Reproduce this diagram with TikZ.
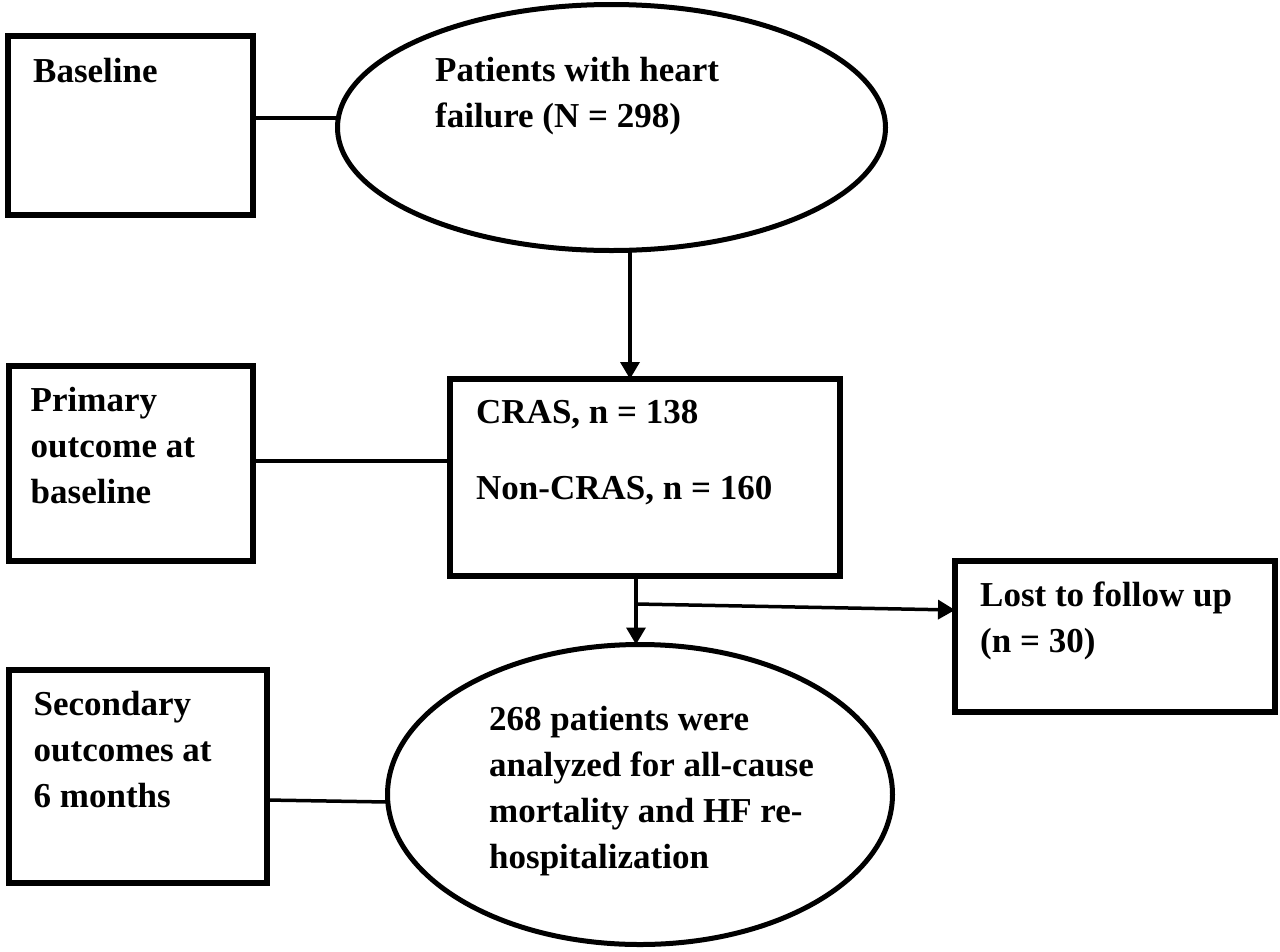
\documentclass[tikz,border=0pt]{standalone}
\usepackage{fontspec}
\setmainfont{Liberation Serif}
\usetikzlibrary{shapes.geometric,arrows.meta,positioning}

\begin{document}
\begin{tikzpicture}[->,>={Triangle[length=17pt,width=19pt]},node distance=300pt,
    box/.style={draw,rectangle,line width=6pt,inner sep=0pt,outer sep=0pt},
    oval/.style={draw,ellipse,line width=5pt,inner sep=0pt,outer sep=0pt},
    txt/.style={font=\fontsize{35}{46}\selectfont\bfseries,align=left,inner sep=0pt,anchor=base west},
    link/.style={-,line width=3.5pt},
    flow/.style={->,line width=3.5pt}]

                \useasboundingbox (0,0) rectangle (1280pt,-951pt);

                \node[box, minimum width=245pt, minimum height=179pt] (base) at (130.5pt,-125.5pt) {};
                \node[oval, minimum width=548pt, minimum height=246pt] (pat) [right of = base, node distance=481pt, yshift=-2pt] {};
                \node[box, minimum width=244pt, minimum height=195pt] (primary) [below of = base, node distance=338pt] {};
                \node[box, minimum width=390pt, minimum height=197pt] (cras) [below of = pat, node distance=350pt, xshift=33.5pt] {};
                \node[box, minimum width=320pt, minimum height=151pt] (lost) [right of = cras, node distance=470pt, yshift=-159pt] {};
                \node[box, minimum width=258pt, minimum height=213pt] (secondary) [below of = primary, node distance=313pt, xshift=7pt] {};
                \node[oval, minimum width=505pt, minimum height=300pt] (ana) [below of = cras, node distance=317pt, xshift=-5pt] {};

                % text sits on the baseline of its last line
                \node[txt] (baseTxt) at ([shift={(25pt,-46pt)}]base.north west) {Baseline};
                \node[txt] (patTxt) at ([shift={(-176.5pt,0.5pt)}]pat.center) {Patients with heart\\failure (N = 298)};
                \node[txt] (primaryTxt) at ([shift={(22pt,-137pt)}]primary.north west) {Primary\\outcome at\\baseline};
                \node[txt] (crasTxt) at ([shift={(26pt,-120pt)}]cras.north west) {CRAS, n = 138\\[30pt]Non-CRAS, n = 160};
                \node[txt] (lostTxt) at ([shift={(25pt,-91pt)}]lost.north west) {Lost to follow up\\(n = 30)};
                \node[txt] (secondaryTxt) at ([shift={(25pt,-137pt)}]secondary.north west) {Secondary\\outcomes at\\6 months};
                \node[txt] (anaTxt) at ([shift={(-151pt,-73.5pt)}]ana.center) {268 patients were\\analyzed for all-cause\\mortality and HF re-\\hospitalization};

                \coordinate (split) at (636pt,-604pt);

                \draw[link] ([yshift=7.5pt]base.east) to ([yshift=9.5pt]pat.west);
                \draw[link] ([yshift=2.5pt]primary.east) to ([yshift=16.5pt]cras.west);
                \draw[link] ([yshift=-23.5pt]secondary.east) to ([yshift=-7.5pt]ana.west);
                \draw[flow] ([xshift=18.5pt]pat.south) to ([xshift=-15pt]cras.north);
                \draw[flow] (cras.south -| split) to (ana.north -| split);
                \draw[flow] (split) to ([yshift=26.5pt]lost.west);

                ;
            \end{tikzpicture}
\end{document}
